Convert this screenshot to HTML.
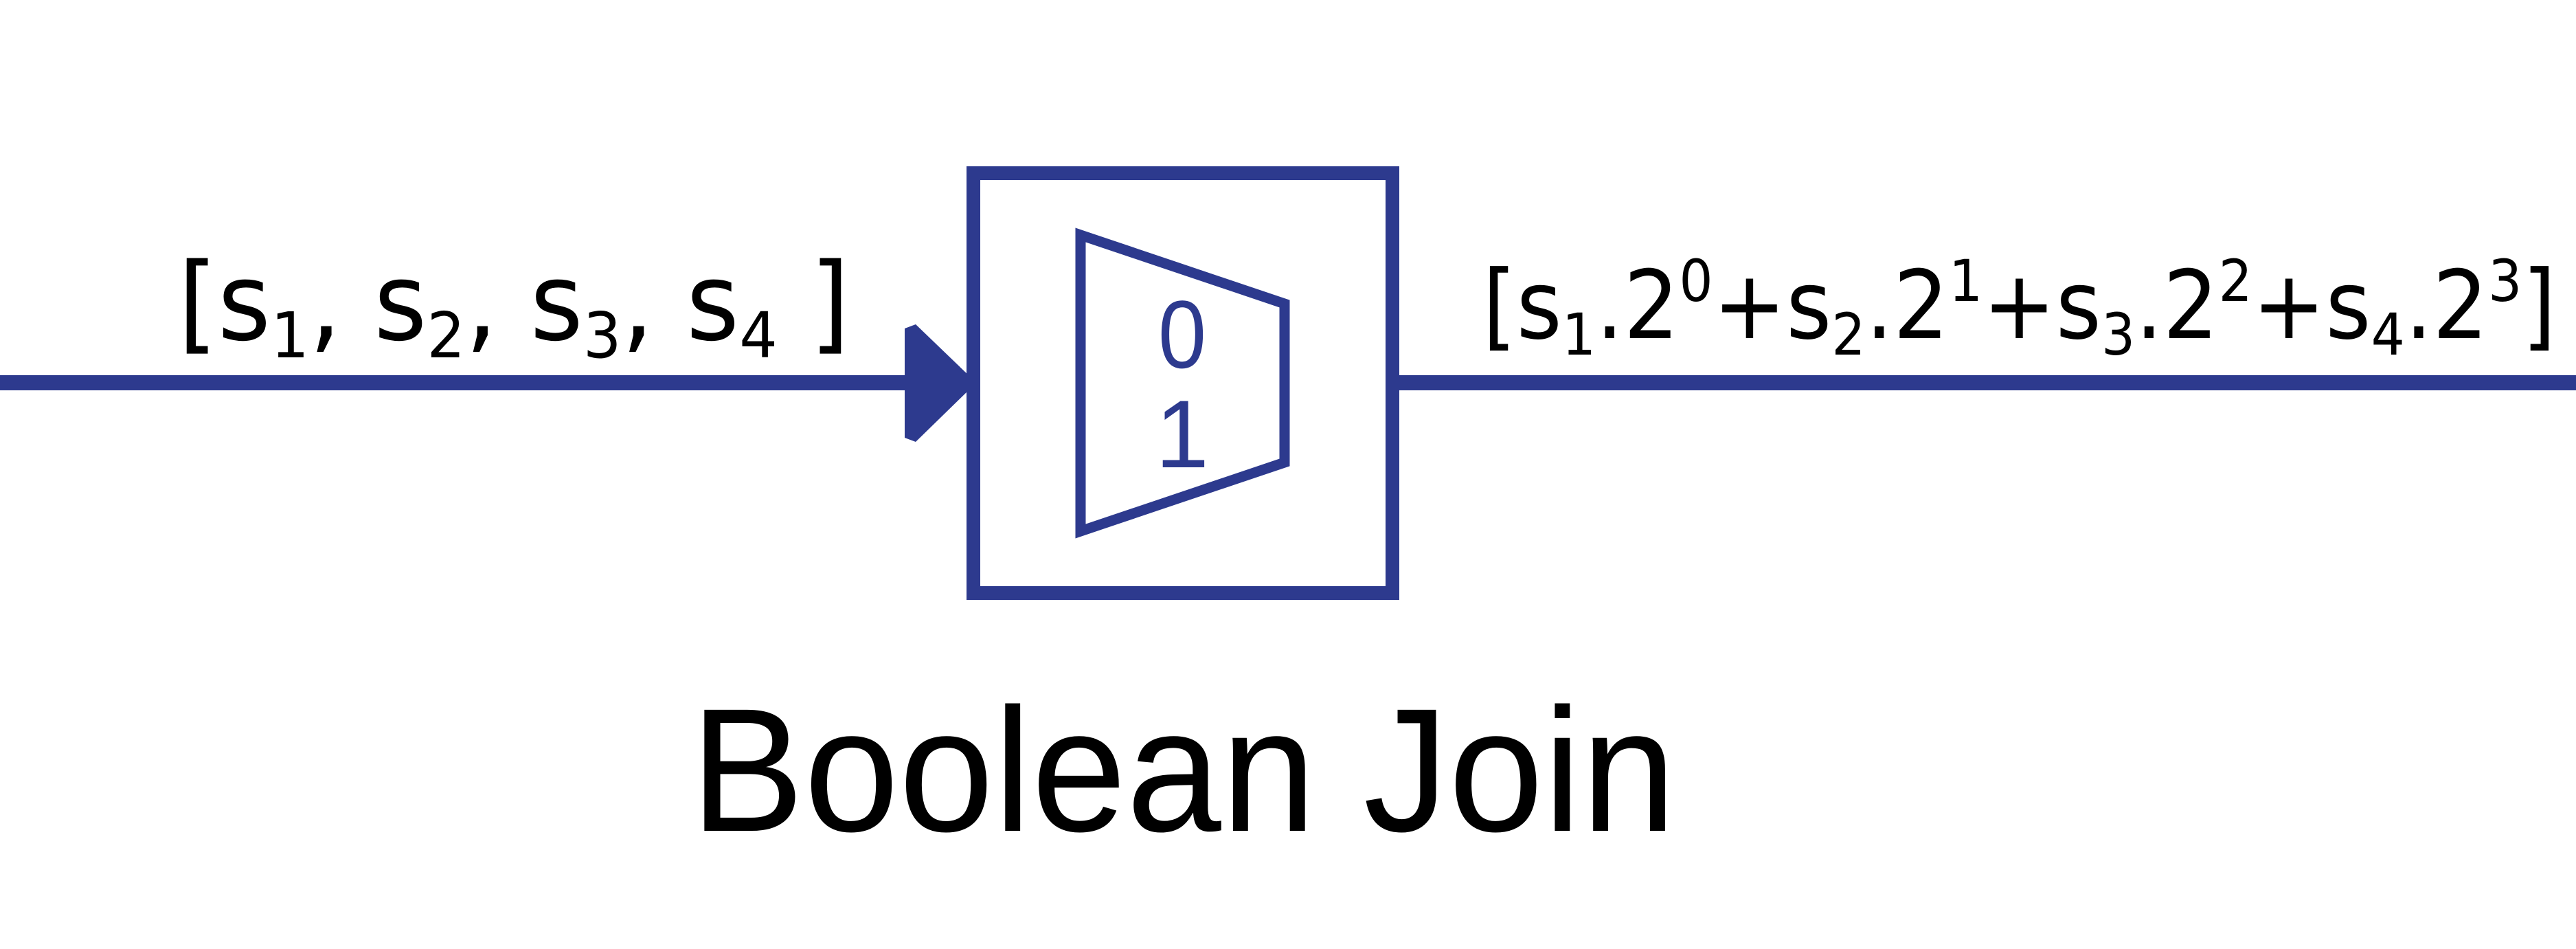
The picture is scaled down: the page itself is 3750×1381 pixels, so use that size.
<!DOCTYPE html>
<html><head><meta charset="utf-8"><style>html,body{margin:0;padding:0;background:#fff}svg{display:block}.d{font-family:"Liberation Sans",Arial,sans-serif}</style></head>
<body>
<svg width="3750" height="1381" viewBox="0 0 3750 1381" xmlns="http://www.w3.org/2000/svg">
<rect width="3750" height="1381" fill="#fff"/>
<g fill="#2d3a8e">
<rect x="0" y="546" width="1330" height="22"/>
<rect x="2030" y="546" width="1720" height="22"/>
<polygon points="1317,478 1333,472 1412,548 1412,566 1333,643 1317,637"/>
</g>
<rect x="1417" y="252" width="610" height="611" fill="none" stroke="#2d3a8e" stroke-width="20"/>
<polygon points="1573,342 1870,442 1870,673 1573,773" fill="none" stroke="#2d3a8e" stroke-width="15"/>
<text class="d" x="1721" y="535" fill="#2d3a8e" font-size="140" text-anchor="middle" transform="translate(1721,535) scale(0.9,1) translate(-1721,-535)">0</text>
<text class="d" x="1721" y="680" fill="#2d3a8e" font-size="140" text-anchor="middle">1</text>
<g font-family="DejaVu Sans, Liberation Sans, sans-serif" fill="#000">
<text x="259" y="494" font-size="156" textLength="978" lengthAdjust="spacingAndGlyphs">[s<tspan font-size="92" dy="26">1</tspan><tspan dy="-26">, s</tspan><tspan font-size="92" dy="26">2</tspan><tspan dy="-26">, s</tspan><tspan font-size="92" dy="26">3</tspan><tspan dy="-26">, s</tspan><tspan font-size="92" dy="26">4</tspan><tspan dy="-26"> ]</tspan></text>
<text x="2158" y="492" font-size="138" textLength="1563" lengthAdjust="spacingAndGlyphs">[s<tspan font-size="84" dy="24">1</tspan><tspan dy="-24">.2</tspan><tspan font-size="84" dy="-54">0</tspan><tspan dy="54">+s</tspan><tspan font-size="84" dy="24">2</tspan><tspan dy="-24">.2</tspan><tspan font-size="84" dy="-54">1</tspan><tspan dy="54">+s</tspan><tspan font-size="84" dy="24">3</tspan><tspan dy="-24">.2</tspan><tspan font-size="84" dy="-54">2</tspan><tspan dy="54">+s</tspan><tspan font-size="84" dy="24">4</tspan><tspan dy="-24">.2</tspan><tspan font-size="84" dy="-54">3</tspan><tspan dy="54">]</tspan></text>
</g>
<text class="d" x="1005" y="1209" font-size="256" fill="#000" textLength="1435" lengthAdjust="spacingAndGlyphs">Boolean Join</text>
</svg>
</body></html>
